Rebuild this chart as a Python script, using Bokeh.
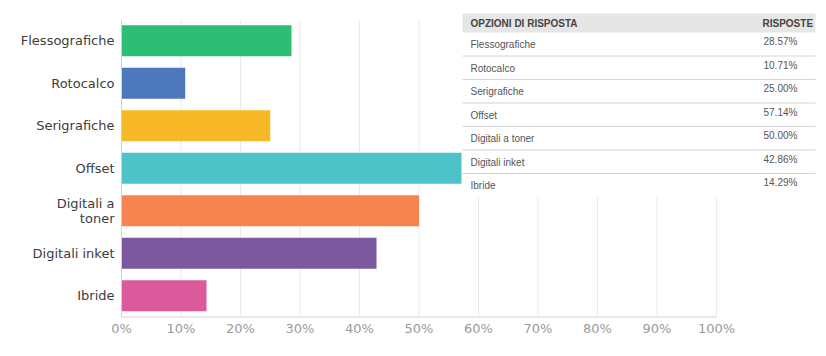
from bokeh.plotting import figure
from bokeh.models import Range1d
from bokeh.core.properties import value
from bokeh.embed import file_html
from bokeh.resources import INLINE

# ---------------- data ----------------
categories = ["Flessografiche", "Rotocalco", "Serigrafiche", "Offset",
              "Digitali a toner", "Digitali inket", "Ibride"]
axis_labels = ["Flessografiche", "Rotocalco", "Serigrafiche", "Offset",
               "Digitali a\ntoner", "Digitali inket", "Ibride"]
values = [28.57, 10.71, 25.00, 57.14, 50.00, 42.86, 14.29]
value_labels = ["28.57%", "10.71%", "25.00%", "57.14%", "50.00%", "42.86%", "14.29%"]
colors = ["#2dbd74", "#4e78bd", "#f7b928", "#4dc3c8", "#f7844e", "#7a599f", "#db5a9b"]
x_ticks = [0, 10, 20, 30, 40, 50, 60, 70, 80, 90, 100]
x_tick_labels = ["0%", "10%", "20%", "30%", "40%", "50%", "60%", "70%", "80%", "90%", "100%"]
header = ["OPZIONI DI RISPOSTA", "RISPOSTE"]

# ---------------- layout (pixels) ----------------
W, H = 818, 340
X0 = 121            # x of 0%
PX_X = 5.95         # px per percent
BOTTOM = 316.5      # y of the baseline (0 of the category scale)
ROW = 42.5          # px per category band

x_start = -X0 / PX_X
x_end = (W - X0) / PX_X
y_start = -(H - BOTTOM) / ROW
y_end = BOTTOM / ROW
n = len(categories)
pos = [n - i - 0.5 for i in range(n)]


def px_x(px):
    return (px - X0) / PX_X


def px_y(py):
    return (BOTTOM - py) / ROW


p = figure(width=W, height=H, output_backend="svg", toolbar_location=None,
           x_range=Range1d(x_start, x_end), y_range=Range1d(y_start, y_end))
p.min_border_left = 0
p.min_border_right = 0
p.min_border_top = 0
p.min_border_bottom = 0
p.outline_line_color = None
p.xgrid.visible = False
p.ygrid.visible = False
p.yaxis.visible = False
p.xaxis.visible = False

# gridlines
p.segment(x0=x_ticks[1:], x1=x_ticks[1:], y0=[0] * (len(x_ticks) - 1),
          y1=[n] * (len(x_ticks) - 1), line_color="#ebebeb", line_width=1)

# bars
p.hbar(y=pos, right=values, left=0, height=0.73, fill_color=colors, line_color=None)

# axis lines
p.segment(x0=[0, 0], y0=[0, 0], x1=[0, 100], y1=[n, 0], line_color="#d0d0d0", line_width=1)

# x tick labels
p.text(x=x_ticks, y=[px_y(328)] * len(x_ticks), text=x_tick_labels,
       text_align="center", text_baseline="middle",
       text_font=value("DejaVu Sans"), text_font_size="13px", text_color="#9a9a9a")

# category labels (right-aligned, multi-line split into separate lines)
lab_x, lab_y, lab_t = [], [], []
LINE = 14.5
for pp, l in zip(pos, axis_labels):
    lines = l.split("\n")
    k = len(lines)
    for j, ln in enumerate(lines):
        off = (j - (k - 1) / 2) * LINE
        lab_x.append(px_x(X0 - 7))
        lab_y.append(pp - off / ROW)
        lab_t.append(ln)
p.text(x=lab_x, y=lab_y, text=lab_t, text_align="right", text_baseline="middle",
       text_font=value("DejaVu Sans"), text_font_size="13px", text_color="#3c3c3c")

# ---------------- table ----------------
T_L, T_R = 462, 815
H_T, H_B = 13, 32
R_H = 23.5
rows_bottom = H_B + R_H * n

p.quad(left=[px_x(T_L)], right=[px_x(T_R)], top=[px_y(H_T)], bottom=[px_y(rows_bottom)],
       fill_color="white", line_color=None)
p.quad(left=[px_x(T_L)], right=[px_x(T_R)], top=[px_y(H_T)], bottom=[px_y(H_B)],
       fill_color="#e6e6e6", line_color=None)

sep_y = [px_y(H_B + R_H * (i + 1)) for i in range(n - 1)]
p.segment(x0=[px_x(T_L)] * len(sep_y), x1=[px_x(T_R)] * len(sep_y), y0=sep_y, y1=sep_y,
          line_color="#d4d4d4", line_width=1)

p.text(x=[px_x(470), px_x(762)], y=[px_y((H_T + H_B) / 2)] * 2, text=header,
       text_font=value("Liberation Sans"), text_font_size="10px", text_font_style="bold",
       text_color="#444444", text_baseline="middle", text_align="left")

row_y = [px_y(H_B + R_H * i + R_H / 2 + 0.5) for i in range(n)]
val_y = [px_y(H_B + R_H * i + R_H / 2 - 2.5) for i in range(n)]
p.text(x=[px_x(470)] * n, y=row_y, text=categories,
       text_font=value("Liberation Sans"), text_font_size="10px",
       text_color="#555555", text_baseline="middle", text_align="left")
p.text(x=[px_x(763)] * n, y=val_y, text=value_labels,
       text_font=value("Liberation Sans"), text_font_size="10px",
       text_color="#555555", text_baseline="middle", text_align="left")

open("out.html", "w").write(file_html(p, INLINE))
